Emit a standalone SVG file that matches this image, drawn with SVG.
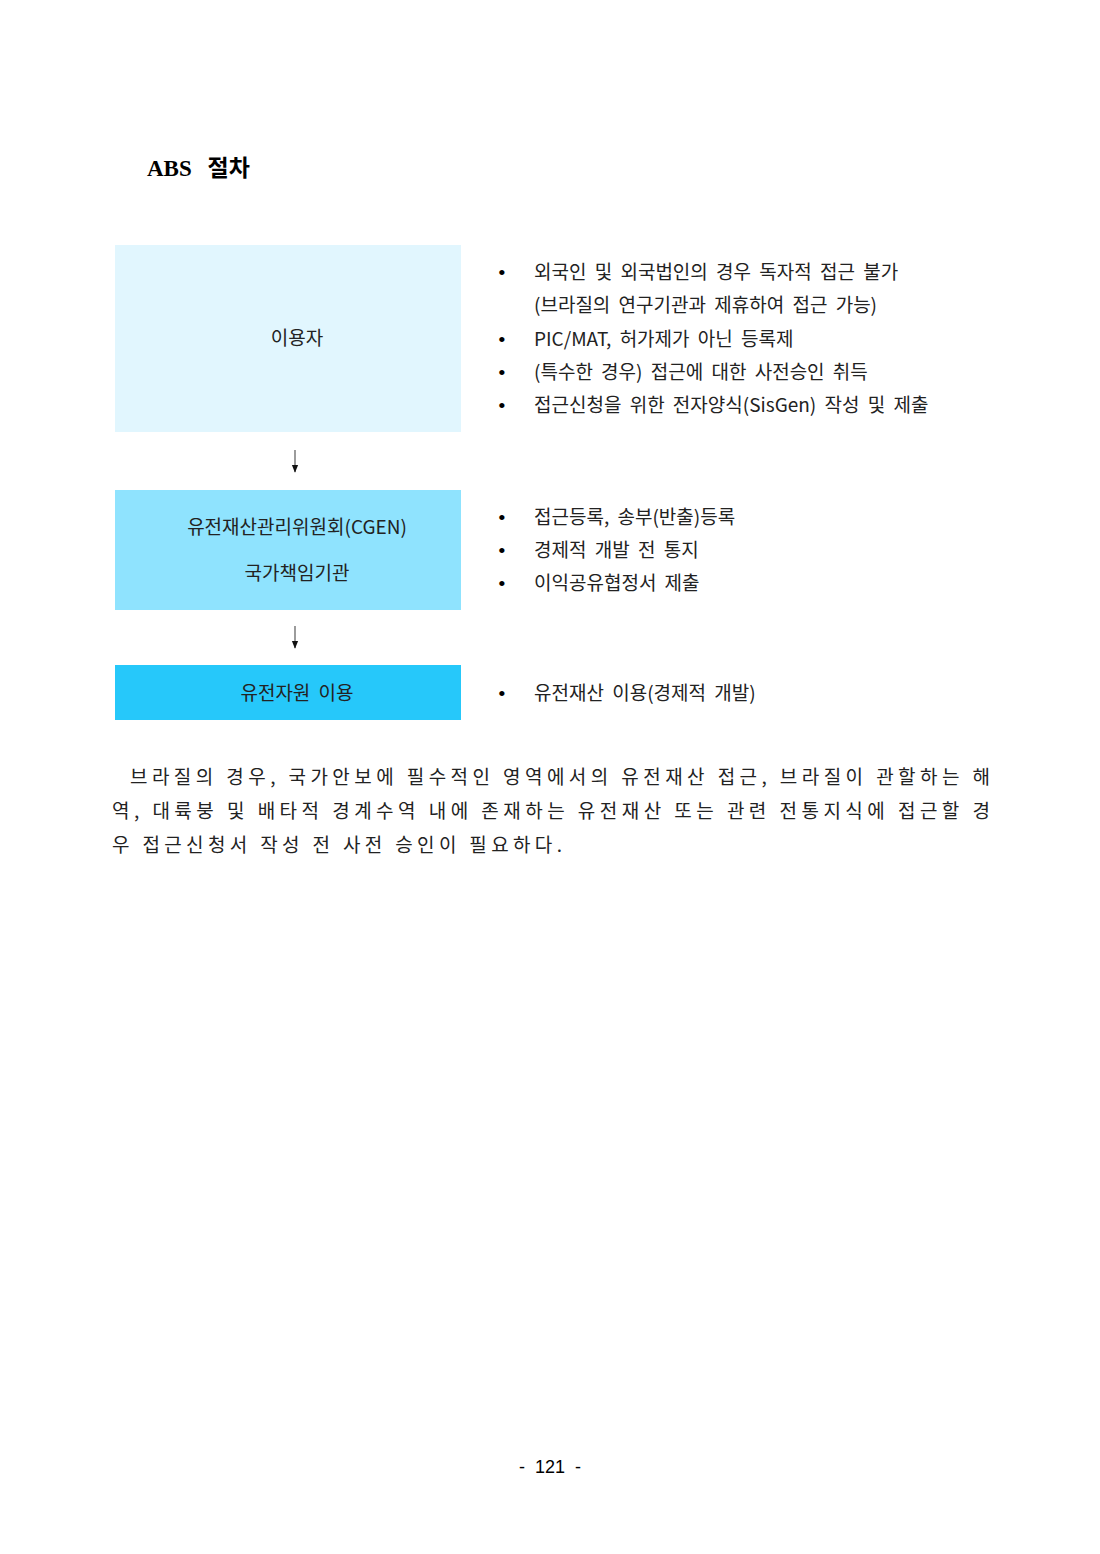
<svg xmlns="http://www.w3.org/2000/svg" width="1100" height="1554" viewBox="0 0 1100 1554">
<style>
.t{font-family:"Noto Sans CJK KR","Liberation Serif",sans-serif;font-size:19px;fill:#222;}
.n{word-spacing:4px;}
.c{text-anchor:middle;}
.b{font-family:"Liberation Serif","Noto Sans CJK KR",serif;font-size:22px;fill:#000;}
.ttl{font-family:"Liberation Serif","Noto Sans CJK KR",serif;font-size:23px;font-weight:bold;fill:#000;word-spacing:10px;}
.p{font-family:"Noto Sans CJK KR",sans-serif;font-size:19px;fill:#222;}
.pg{font-family:"Liberation Sans",sans-serif;font-size:18px;fill:#000;text-anchor:middle;word-spacing:5px;}
.con{stroke:#666;stroke-width:1.3;fill:none;}
</style>
<defs>
<marker id="ah" viewBox="0 0 10 10" refX="9" refY="5" markerWidth="6" markerHeight="6" orient="auto">
<path d="M0,1 L10,5 L0,9 z" fill="#111"/>
</marker>
</defs>
<rect width="1100" height="1554" fill="#fff"/>
<text class="ttl" x="147" y="176">ABS 절차</text>

<g id="node-user">
<rect x="115" y="245" width="346" height="187" fill="#E1F6FE"/>
<text class="t c" x="297" y="345">이용자</text>
</g>
<g id="node-cgen">
<rect x="115" y="490" width="346" height="120" fill="#8FE3FE"/>
<text class="t c" x="297" y="534">유전재산관리위원회(CGEN)</text>
<text class="t c" x="297" y="580">국가책임기관</text>
</g>
<g id="node-use">
<rect x="115" y="665" width="346" height="55" fill="#26C8FA"/>
<text class="t c n" x="297" y="700">유전자원 이용</text>
</g>

<g id="connectors">
<line class="con" x1="295" y1="450" x2="295" y2="472" marker-end="url(#ah)"/>
<line class="con" x1="295" y1="626" x2="295" y2="648" marker-end="url(#ah)"/>
</g>

<g id="notes-user">
<text class="b" x="498" y="280">•</text><text class="t n" x="534" y="279">외국인 및 외국법인의 경우 독자적 접근 불가</text>
<text class="t n" x="534" y="312">(브라질의 연구기관과 제휴하여 접근 가능)</text>
<text class="b" x="498" y="347">•</text><text class="t n" x="534" y="346">PIC/MAT, 허가제가 아닌 등록제</text>
<text class="b" x="498" y="380">•</text><text class="t n" x="534" y="379">(특수한 경우) 접근에 대한 사전승인 취득</text>
<text class="b" x="498" y="413">•</text><text class="t n" x="534" y="412">접근신청을 위한 전자양식(SisGen) 작성 및 제출</text>
</g>
<g id="notes-cgen">
<text class="b" x="498" y="525">•</text><text class="t n" x="534" y="524">접근등록, 송부(반출)등록</text>
<text class="b" x="498" y="558">•</text><text class="t n" x="534" y="557">경제적 개발 전 통지</text>
<text class="b" x="498" y="591">•</text><text class="t n" x="534" y="590">이익공유협정서 제출</text>
</g>
<g id="notes-use">
<text class="b" x="498" y="701">•</text><text class="t n" x="534" y="700">유전재산 이용(경제적 개발)</text>
</g>

<text class="p" x="130" y="784" textLength="860" lengthAdjust="spacing">브라질의 경우, 국가안보에 필수적인 영역에서의 유전재산 접근, 브라질이 관할하는 해</text>
<text class="p" x="112" y="818" textLength="878" lengthAdjust="spacing">역, 대륙붕 및 배타적 경계수역 내에 존재하는 유전재산 또는 관련 전통지식에 접근할 경</text>
<text class="p" x="112" y="852" textLength="450" lengthAdjust="spacing">우 접근신청서 작성 전 사전 승인이 필요하다.</text>

<text class="pg" x="550" y="1473">- 121 -</text>
</svg>
